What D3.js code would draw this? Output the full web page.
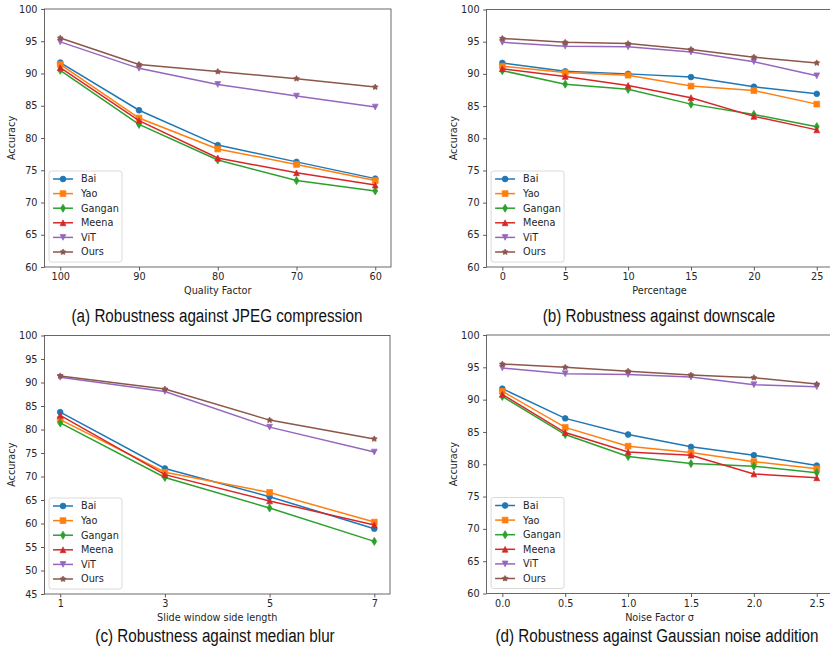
<!DOCTYPE html>
<html>
<head>
<meta charset="utf-8">
<script src="https://cdn.jsdelivr.net/npm/d3@7"></script>
<style>
  body { margin: 0; background: #fff; }
  svg { display: block; }
  text { font-family: "DejaVu Sans", sans-serif; fill: #262626; }
  .caption { font-family: "Liberation Sans", Arial, sans-serif; font-size: 18px; fill: #111; }
</style>
</head>
<body>
<div id="chart"></div>
<script>
//series shared by all panels
var seriesNames = ["Bai", "Yao", "Gangan", "Meena", "ViT", "Ours"];
var seriesColors = ["#1f77b4", "#ff7f0e", "#2ca02c", "#d62728", "#9467bd", "#8c564b"];
var seriesMarkers = ["circle", "square", "thinDiamond", "triangleUp", "triangleDown", "star"];

//(a) JPEG compression
var jpegQuality = [100, 90, 80, 70, 60];
var jpegBai = [91.7, 84.3, 78.9, 76.3, 73.7];
var jpegYao = [91.4, 83.1, 78.3, 75.9, 73.4];
var jpegGangan = [90.5, 82.1, 76.6, 73.4, 71.8];
var jpegMeena = [90.9, 82.7, 76.9, 74.6, 72.7];
var jpegViT = [94.9, 90.8, 88.3, 86.5, 84.8];
var jpegOurs = [95.5, 91.4, 90.3, 89.2, 87.9];

//(b) downscale
var downPercent = [0, 5, 10, 15, 20, 25];
var downBai = [91.7, 90.4, 90.0, 89.5, 88.0, 86.9];
var downYao = [91.2, 90.2, 89.8, 88.1, 87.4, 85.3];
var downGangan = [90.5, 88.4, 87.6, 85.3, 83.7, 81.8];
var downMeena = [90.8, 89.6, 88.2, 86.3, 83.4, 81.3];
var downViT = [94.9, 94.3, 94.2, 93.4, 91.9, 89.7];
var downOurs = [95.5, 94.9, 94.7, 93.8, 92.6, 91.7];

//(c) median blur
var blurWindow = [1, 3, 5, 7];
var blurBai = [83.7, 71.7, 65.7, 58.9];
var blurYao = [82.1, 70.9, 66.6, 60.3];
var blurGangan = [81.4, 69.8, 63.3, 56.2];
var blurMeena = [83.0, 70.4, 64.8, 59.7];
var blurViT = [91.1, 88.1, 80.5, 75.2];
var blurOurs = [91.4, 88.6, 82.0, 78.0];

//(d) gaussian noise
var noiseSigma = [0, 0.5, 1.0, 1.5, 2.0, 2.5];
var noiseBai = [91.7, 87.1, 84.6, 82.7, 81.4, 79.8];
var noiseYao = [91.3, 85.7, 82.8, 81.8, 80.4, 79.3];
var noiseGangan = [90.5, 84.6, 81.2, 80.1, 79.7, 78.7];
var noiseMeena = [90.8, 84.9, 81.9, 81.4, 78.5, 77.9];
var noiseViT = [94.9, 94.0, 93.9, 93.5, 92.3, 92.0];
var noiseOurs = [95.5, 95.0, 94.4, 93.8, 93.4, 92.4];

var yTicks60 = d3.range(60, 101, 5);
var yTicks45 = d3.range(45, 101, 5);

var W = 830, H = 649;
var svg = d3.select("#chart").append("svg")
  .attr("width", W)
  .attr("height", H);

//marker shapes (matplotlib-like), ms = marker size in px
function markerPath(type, ms) {
  var r = ms / 2, p = d3.path();
  switch (type) {
    case "circle":
      p.arc(0, 0, r, 0, 2 * Math.PI); break;
    case "square":
      p.rect(-r, -r, ms, ms); break;
    case "thinDiamond":
      var hw = r * 0.85, hh = r * 1.4;
      p.moveTo(0, -hh); p.lineTo(hw, 0); p.lineTo(0, hh); p.lineTo(-hw, 0); p.closePath(); break;
    case "triangleUp":
      p.moveTo(0, -r); p.lineTo(r, r); p.lineTo(-r, r); p.closePath(); break;
    case "triangleDown":
      p.moveTo(0, r); p.lineTo(r, -r); p.lineTo(-r, -r); p.closePath(); break;
    case "star":
      for (var k = 0; k < 10; k++) {
        var a = -Math.PI / 2 + k * Math.PI / 5;
        var rr = (k % 2 === 0) ? r * 1.05 : r * 0.58;
        if (k === 0) p.moveTo(rr * Math.cos(a), rr * Math.sin(a));
        else p.lineTo(rr * Math.cos(a), rr * Math.sin(a));
      }
      p.closePath(); break;
  }
  return p.toString();
}

//PARAM: cfg = panel definition (frame box, x values, series, ticks, labels)
function drawPanel(cfg) {
  var g = svg.append("g");
  var xs = cfg.x;
  var xMin = d3.min(xs), xMax = d3.max(xs), pad = (xMax - xMin) * 0.05;

  var x = d3.scaleLinear()
    .domain(cfg.reverse ? [xMax + pad, xMin - pad] : [xMin - pad, xMax + pad])
    .range([cfg.left, cfg.right]);
  var y = d3.scaleLinear()
    .domain([d3.min(cfg.yTicks), d3.max(cfg.yTicks)])
    .range([cfg.bottom, cfg.top]);

  //axes
  var xAxis = d3.axisBottom(x).tickValues(xs).tickSize(3.5).tickPadding(3)
    .tickFormat(cfg.xFormat || d3.format("d"));
  var yAxis = d3.axisLeft(y).tickValues(cfg.yTicks).tickSize(3.5).tickPadding(3.5)
    .tickFormat(d3.format("d"));

  var gx = g.append("g").attr("transform", "translate(0," + cfg.bottom + ")").call(xAxis);
  var gy = g.append("g").attr("transform", "translate(" + cfg.left + ",0)").call(yAxis);
  [gx, gy].forEach(function(a) {
    a.select(".domain").remove();
    a.selectAll(".tick line").attr("stroke", "#333").attr("stroke-width", 0.8);
    a.selectAll(".tick text").attr("font-size", 9.7).attr("font-family", "DejaVu Sans").attr("fill", "#262626");
  });

  //frame
  g.append("rect")
    .attr("x", cfg.left).attr("y", cfg.top)
    .attr("width", cfg.right - cfg.left).attr("height", cfg.bottom - cfg.top)
    .attr("fill", "none").attr("stroke", "#444").attr("stroke-width", 0.8);

  //axis labels
  g.append("text")
    .attr("x", (cfg.left + cfg.right) / 2)
    .attr("y", cfg.bottom + 27)
    .attr("text-anchor", "middle")
    .attr("font-size", 9.7)
    .text(cfg.xLabel);
  g.append("text")
    .attr("transform", "translate(" + (cfg.left - 30) + "," + ((cfg.top + cfg.bottom) / 2) + ") rotate(-90)")
    .attr("text-anchor", "middle")
    .attr("font-size", 9.7)
    .text("Accuracy");

  //lines + markers
  var line = d3.line()
    .x(function(d, i) { return x(xs[i]); })
    .y(function(d) { return y(d); });

  cfg.series.forEach(function(vals, si) {
    var sg = g.append("g");
    sg.append("path")
      .attr("d", line(vals))
      .attr("fill", "none")
      .attr("stroke", seriesColors[si])
      .attr("stroke-width", 1.5);
    sg.selectAll("path.mk")
      .data(vals)
      .enter()
      .append("path")
      .attr("class", "mk")
      .attr("d", markerPath(seriesMarkers[si], 5.8))
      .attr("transform", function(d, i) { return "translate(" + x(xs[i]) + "," + y(d) + ")"; })
      .attr("fill", seriesColors[si])
      .attr("stroke", seriesColors[si])
      .attr("stroke-width", 0.7);
  });

  //legend
  var lx = cfg.left + 4.5, lh = 91, ly = cfg.bottom - 5 - lh;
  var leg = g.append("g");
  leg.append("rect")
    .attr("x", lx).attr("y", ly).attr("width", 73).attr("height", lh)
    .attr("rx", 2.5).attr("ry", 2.5)
    .attr("fill", "#fff").attr("fill-opacity", 0.8)
    .attr("stroke", "#d0d0d0").attr("stroke-width", 0.8);
  var rows = leg.selectAll("g.row")
    .data(seriesNames)
    .enter()
    .append("g")
    .attr("class", "row")
    .attr("transform", function(d, i) { return "translate(0," + (ly + 8 + i * 14.6) + ")"; });
  rows.append("line")
    .attr("x1", cfg.left + 8.5).attr("x2", cfg.left + 28.5)
    .attr("stroke", function(d, i) { return seriesColors[i]; })
    .attr("stroke-width", 1.5);
  rows.append("path")
    .attr("d", function(d, i) { return markerPath(seriesMarkers[i], 5.8); })
    .attr("transform", "translate(" + (cfg.left + 18.5) + ",0)")
    .attr("fill", function(d, i) { return seriesColors[i]; })
    .attr("stroke", function(d, i) { return seriesColors[i]; })
    .attr("stroke-width", 0.7);
  rows.append("text")
    .attr("x", cfg.left + 36.5)
    .attr("dy", "0.35em")
    .attr("font-size", 9.7)
    .text(function(d) { return d; });

  //caption (condensed sans, like the figure's narrow caption font)
  svg.append("text")
    .attr("class", "caption")
    .attr("transform", "translate(" + cfg.captionX + "," + cfg.captionY + ") scale(0.846,1)")
    .attr("text-anchor", "middle")
    .text(cfg.caption);
}

drawPanel({
  left: 44.5, right: 391, top: 9, bottom: 267, reverse: true,
  x: jpegQuality, yTicks: yTicks60,
  series: [jpegBai, jpegYao, jpegGangan, jpegMeena, jpegViT, jpegOurs],
  xLabel: "Quality Factor",
  caption: "(a) Robustness against JPEG compression", captionX: 217, captionY: 322
});
drawPanel({
  left: 486.6, right: 832.5, top: 9.5, bottom: 267,
  x: downPercent, yTicks: yTicks60,
  series: [downBai, downYao, downGangan, downMeena, downViT, downOurs],
  xLabel: "Percentage",
  caption: "(b) Robustness against downscale", captionX: 659, captionY: 322
});
drawPanel({
  left: 44.5, right: 390, top: 335.5, bottom: 594,
  x: blurWindow, yTicks: yTicks45,
  series: [blurBai, blurYao, blurGangan, blurMeena, blurViT, blurOurs],
  xLabel: "Slide window side length",
  caption: "(c) Robustness against median blur", captionX: 215, captionY: 642
});
drawPanel({
  left: 486.6, right: 832.5, top: 335, bottom: 593.5,
  x: noiseSigma, yTicks: yTicks60, xFormat: d3.format(".1f"),
  series: [noiseBai, noiseYao, noiseGangan, noiseMeena, noiseViT, noiseOurs],
  xLabel: "Noise Factor σ",
  caption: "(d) Robustness against Gaussian noise addition", captionX: 657, captionY: 642
});
</script>
</body>
</html>
